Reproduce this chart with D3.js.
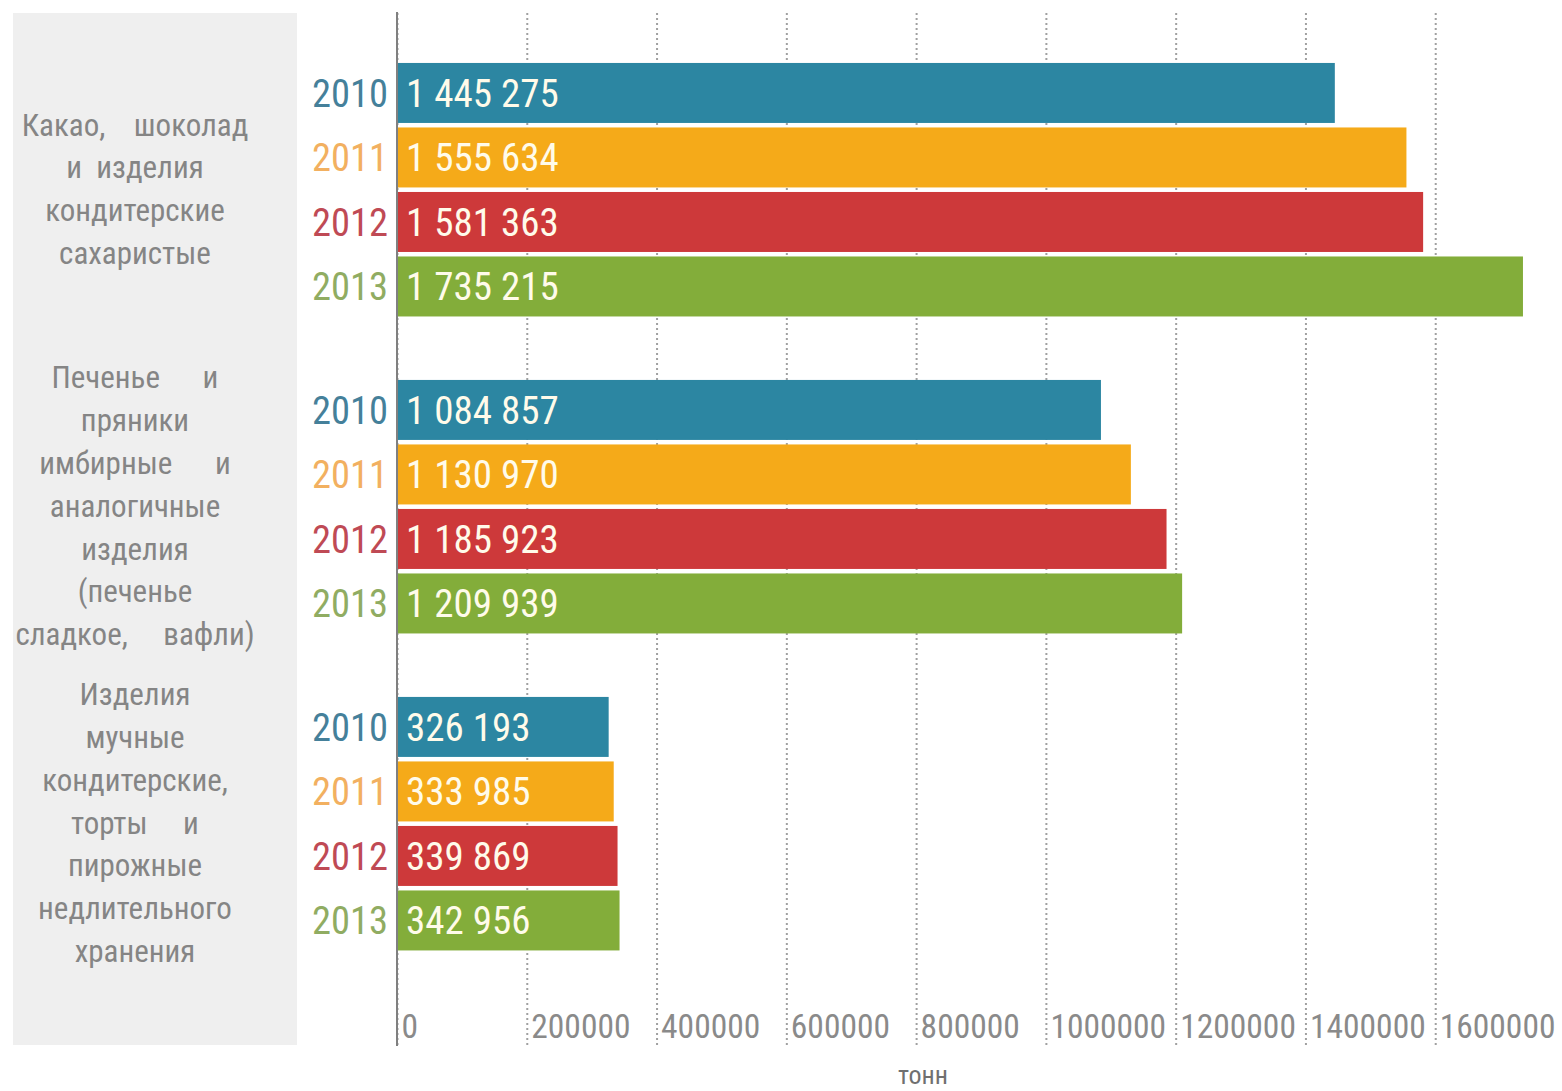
<!DOCTYPE html>
<html>
<head>
<meta charset="utf-8">
<script src="https://cdn.jsdelivr.net/npm/d3@7"></script>
<style>
  body { margin: 0; background: #fff; }
  text { font-family: "Liberation Sans Narrow", "Roboto Condensed", "DejaVu Sans Condensed", sans-serif; font-stretch: condensed; }
</style>
</head>
<body>
<svg id="chart" width="1562" height="1091"></svg>
<script>
// data
const years = ["2010", "2011", "2012", "2013"];
const categories = ["cocoa", "biscuits", "cakes"];
const categoryLines = [
  ["Какао,    шоколад", "и  изделия", "кондитерские", "сахаристые"],
  ["Печенье      и", "пряники", "имбирные      и", "аналогичные", "изделия", "(печенье", "сладкое,     вафли)"],
  ["Изделия", "мучные", "кондитерские,", "торты     и", "пирожные", "недлительного", "хранения"]
];
const values2010 = [1445275, 1084857, 326193];
const values2011 = [1555634, 1130970, 333985];
const values2012 = [1581363, 1185923, 339869];
const values2013 = [1735215, 1209939, 342956];
const xTicks = [0, 200000, 400000, 600000, 800000, 1000000, 1200000, 1400000, 1600000];
const unitLabel = "тонн";

const barColors = ["#2c86a2", "#f5aa19", "#cd393a", "#83ad3a"];
const yearColors = ["#45809a", "#f2b060", "#bf4a55", "#90ac62"];

const seriesValues = [values2010, values2011, values2012, values2013];
const rows = [];
categories.forEach((c, i) => {
  years.forEach((yr, j) => rows.push({ cat: c, year: yr, value: seriesValues[j][i], color: barColors[j], ycolor: yearColors[j] }));
});

const svg = d3.select("#chart");
const plotTop = 13, plotBottom = 1045;

const x = d3.scaleLinear().domain([0, 1800000]).range([397, 1565]);
const y0 = d3.scaleBand().domain(categories).range([29, 984.4]).paddingInner(0.186).paddingOuter(0.1);
const y1 = d3.scaleBand().domain(years).range([0, y0.bandwidth()]).paddingInner(0.07).paddingOuter(0.035);

const fmt = d3.formatLocale({ decimal: ",", thousands: " ", grouping: [3], currency: ["", ""] }).format(",d");

// left grey panel
svg.append("rect").attr("x", 13).attr("y", plotTop).attr("width", 284).attr("height", plotBottom - plotTop).attr("fill", "#efefef");

// gridlines + tick labels
const axis = d3.axisBottom(x).tickValues(xTicks).tickFormat(d3.format("d")).tickSize(-(plotBottom - plotTop)).tickPadding(0);
const gx = svg.append("g").attr("transform", `translate(0,${plotBottom})`).call(axis);
gx.select(".domain").remove();
gx.selectAll(".tick line").attr("stroke", "#a0a0a0").attr("stroke-width", 2).attr("stroke-dasharray", "2,3");
gx.selectAll(".tick text")
  .attr("text-anchor", "start").attr("x", 4).attr("y", -7).attr("dy", null)
  .attr("fill", "#8a8a8a").style("font-size", "33.5px");

// bars
svg.append("g").selectAll("rect").data(rows).join("rect")
  .attr("x", x(0))
  .attr("y", d => y0(d.cat) + y1(d.year))
  .attr("width", d => x(d.value) - x(0))
  .attr("height", y1.bandwidth())
  .attr("fill", d => d.color);

// value labels
svg.append("g").selectAll("text").data(rows).join("text")
  .attr("x", x(0) + 9)
  .attr("y", d => y0(d.cat) + y1(d.year) + y1.bandwidth() / 2 + 14)
  .attr("fill", "#fffbea")
  .style("font-size", "39px")
  .text(d => fmt(d.value));

// year labels
svg.append("g").selectAll("text").data(rows).join("text")
  .attr("x", x(0) - 9)
  .attr("y", d => y0(d.cat) + y1(d.year) + y1.bandwidth() / 2 + 14)
  .attr("text-anchor", "end")
  .attr("fill", d => d.ycolor)
  .style("font-size", "38.5px")
  .text(d => d.year);

// axis line
svg.append("line").attr("x1", x(0)).attr("x2", x(0)).attr("y1", plotTop - 1).attr("y2", plotBottom + 1)
  .attr("stroke", "#808080").attr("stroke-width", 2);

// category labels
const lineH = 42.8;
categories.forEach((c, i) => {
  const lines = categoryLines[i];
  const cy = y0(c) + y0.bandwidth() / 2;
  const startY = cy - (lines.length - 1) * lineH / 2;
  svg.append("text")
    .attr("text-anchor", "middle")
    .attr("fill", "#858585")
    .style("font-size", "31px").style("white-space", "pre")
    .selectAll("tspan").data(lines).join("tspan")
    .attr("x", 135)
    .attr("y", (d, k) => startY + k * lineH + 10)
    .text(d => d);
});

// unit label
svg.append("text").attr("x", 923).attr("y", 1084).attr("text-anchor", "middle")
  .attr("fill", "#707070").style("font-size", "26px").text(unitLabel);
</script>
</body>
</html>
